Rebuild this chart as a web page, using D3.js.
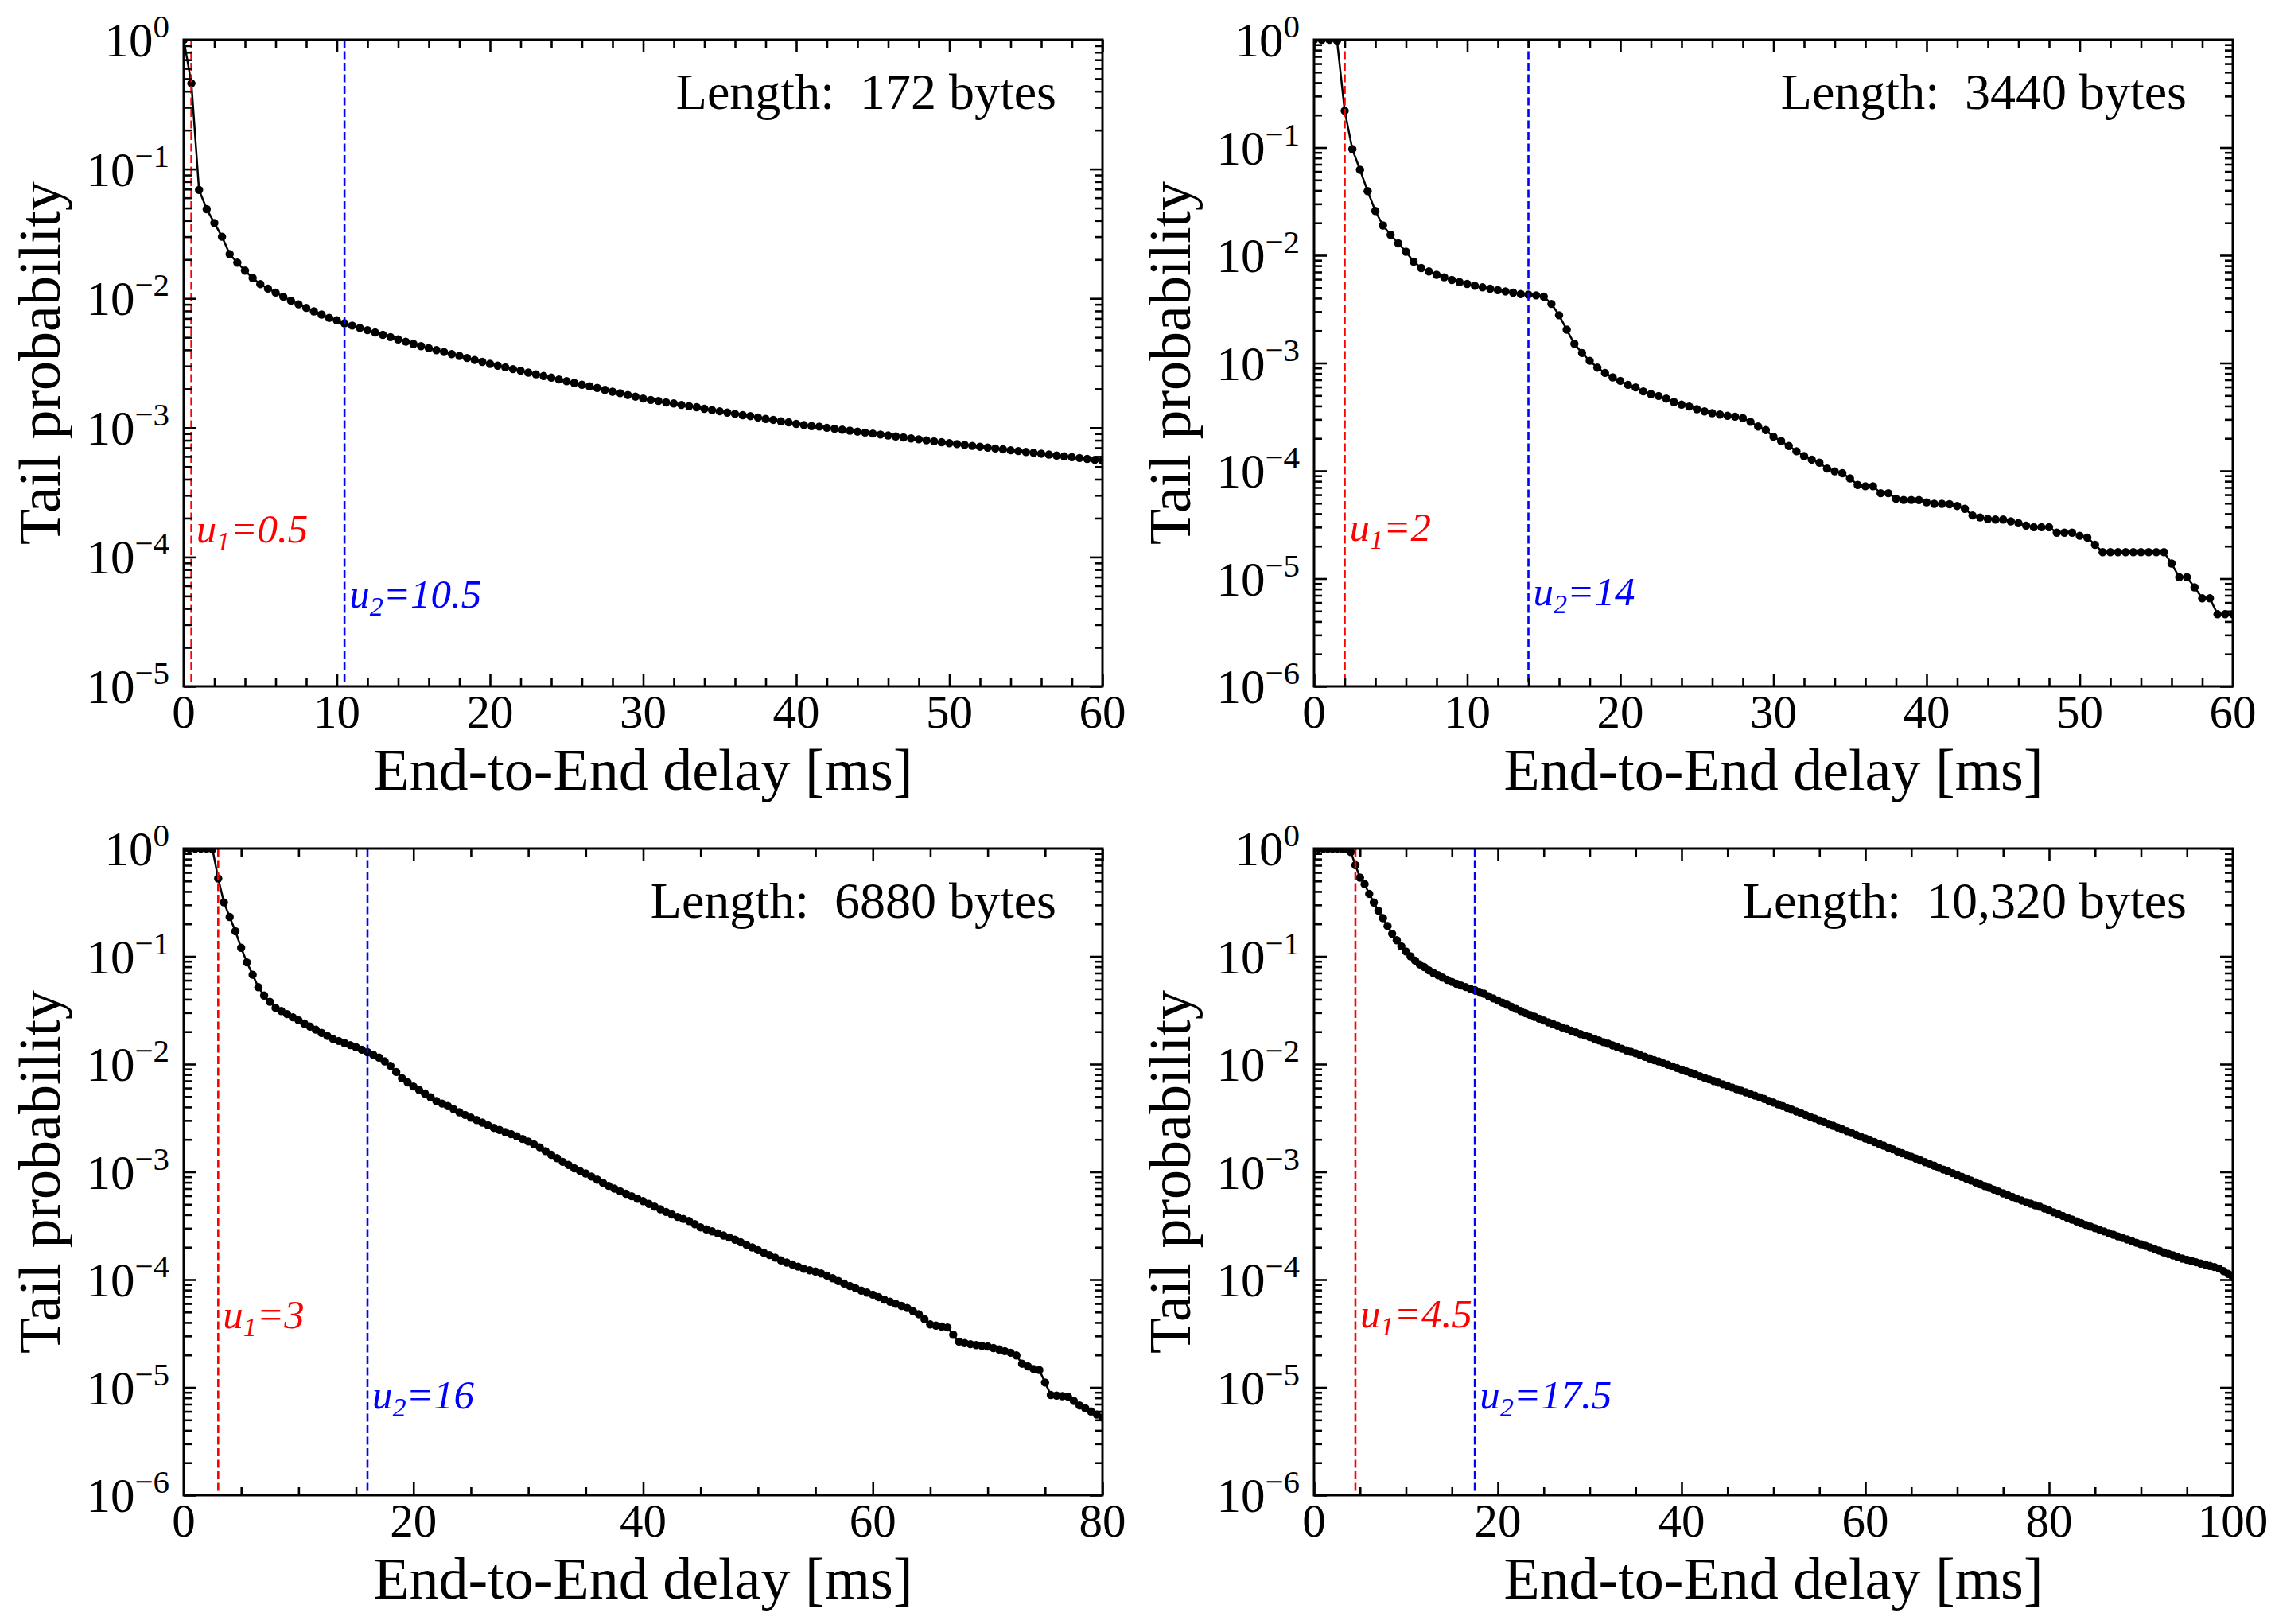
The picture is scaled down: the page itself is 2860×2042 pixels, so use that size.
<!DOCTYPE html>
<html>
<head>
<meta charset="utf-8">
<script src="https://cdn.jsdelivr.net/npm/d3@7"></script>
<style>
  html, body { margin: 0; padding: 0; background: #fff; }
  svg { display: block; }
  text { font-family: "Liberation Serif", "Times New Roman", serif; fill: #000; }
</style>
</head>
<body>
<svg id="chart" width="2860" height="2042"></svg>
<script>
// tail probability sampled every half millisecond, starting at 0 ms
var sampleStep = 0.5;

var tail172 = [
  1.0, 0.46, 0.069, 0.049, 0.0383, 0.030, 0.022, 0.0189, 0.0164, 0.0144,
  0.0129, 0.0119, 0.0111, 0.0103, 0.0096, 0.0090, 0.00845, 0.00794, 0.0075, 0.00707,
  0.00677, 0.00642, 0.00616, 0.00591, 0.00568, 0.00545, 0.00523, 0.00502, 0.00482, 0.00463,
  0.00444, 0.00427, 0.00412, 0.00398, 0.00385, 0.00371, 0.00359, 0.00346, 0.00334, 0.00323,
  0.00312, 0.00302, 0.00293, 0.00284, 0.00276, 0.00267, 0.00259, 0.00251, 0.00244, 0.00236,
  0.00229, 0.00222, 0.00215, 0.00209, 0.00203, 0.00196, 0.00190, 0.00185, 0.00179, 0.00174,
  0.00168, 0.00164, 0.00161, 0.00157, 0.00154, 0.00150, 0.00147, 0.00144, 0.00140, 0.00137,
  0.00134, 0.00131, 0.00128, 0.00125, 0.00123, 0.00120, 0.00117, 0.00115, 0.00112, 0.00110,
  0.00107, 0.00105, 0.00103, 0.00102, 9.99e-4, 9.82e-4, 9.65e-4, 9.49e-4, 9.33e-4, 9.17e-4,
  9.01e-4, 8.86e-4, 8.71e-4, 8.56e-4, 8.41e-4, 8.27e-4, 8.13e-4, 7.99e-4, 7.85e-4, 7.72e-4,
  7.59e-4, 7.47e-4, 7.36e-4, 7.24e-4, 7.13e-4, 7.02e-4, 6.91e-4, 6.81e-4, 6.70e-4, 6.60e-4,
  6.50e-4, 6.40e-4, 6.30e-4, 6.20e-4, 6.10e-4, 6.01e-4, 5.92e-4, 5.83e-4, 5.74e-4, 5.65e-4,
  5.56e-4
];

var tail3440 = [
  1.0, 1.0, 1.0, 0.98, 0.219, 0.0966, 0.0621, 0.0394, 0.0258, 0.0189,
  0.0155, 0.0129, 0.0108, 0.00873, 0.00762, 0.00708, 0.0066, 0.00625, 0.0059, 0.00564,
  0.00542, 0.00521, 0.00504, 0.0049, 0.00475, 0.00462, 0.0045, 0.00437, 0.00432, 0.00425,
  0.00413, 0.00354, 0.00278, 0.00204, 0.00151, 0.00124, 0.00105, 9.08e-4, 8.1e-4, 7.36e-4,
  6.84e-4, 6.28e-4, 5.94e-4, 5.46e-4, 5.15e-4, 4.95e-4, 4.68e-4, 4.35e-4, 4.11e-4, 3.95e-4,
  3.73e-4, 3.56e-4, 3.43e-4, 3.33e-4, 3.24e-4, 3.18e-4, 3.09e-4, 2.85e-4, 2.58e-4, 2.39e-4,
  2.07e-4, 1.89e-4, 1.70e-4, 1.52e-4, 1.37e-4, 1.27e-4, 1.19e-4, 1.05e-4, 9.9e-5, 9.5e-5,
  8.5e-5, 7.4e-5, 7.2e-5, 7.2e-5, 6.2e-5, 6.2e-5, 5.5e-5, 5.37e-5, 5.37e-5, 5.35e-5,
  5.1e-5, 4.94e-5, 4.94e-5, 4.9e-5, 4.72e-5, 4.44e-5, 3.85e-5, 3.69e-5, 3.58e-5, 3.53e-5,
  3.53e-5, 3.4e-5, 3.27e-5, 3.1e-5, 3.0e-5, 3.0e-5, 3.0e-5, 2.67e-5, 2.67e-5, 2.67e-5,
  2.5e-5, 2.4e-5, 2.06e-5, 1.76e-5, 1.76e-5, 1.76e-5, 1.76e-5, 1.76e-5, 1.76e-5, 1.76e-5,
  1.76e-5, 1.76e-5, 1.38e-5, 1.03e-5, 1.03e-5, 8.3e-6, 6.56e-6, 6.56e-6, 4.67e-6, 4.67e-6,
  4.67e-6
];

var tail6880 = [
  1.0, 1.0, 1.0, 1.0, 1.0, 0.99, 0.529, 0.317, 0.232, 0.171,
  0.120, 0.0879, 0.0675, 0.0517, 0.0433, 0.0379, 0.0332, 0.0311, 0.0291, 0.0272,
  0.0255, 0.0238, 0.0223, 0.0209, 0.0195, 0.0183, 0.0171, 0.0164, 0.0157, 0.0150,
  0.01435, 0.0136, 0.0129, 0.0122, 0.0115, 0.0106, 0.00964, 0.00845, 0.0074, 0.00677,
  0.0062, 0.00575, 0.00533, 0.00492, 0.00454, 0.0043, 0.00408, 0.00382, 0.00358, 0.00338,
  0.00319, 0.00303, 0.00287, 0.00271, 0.00256, 0.00245, 0.00234, 0.00224, 0.00214, 0.00202,
  0.00191, 0.0018, 0.00169, 0.00156, 0.00144, 0.00134, 0.00124, 0.00116, 0.00108, 0.00102,
  9.67e-4, 9.05e-4, 8.47e-4, 7.92e-4, 7.41e-4, 7.0e-4, 6.61e-4, 6.27e-4, 5.94e-4, 5.64e-4,
  5.35e-4, 5.05e-4, 4.76e-4, 4.5e-4, 4.25e-4, 4.03e-4, 3.82e-4, 3.66e-4, 3.5e-4, 3.27e-4,
  3.06e-4, 2.93e-4, 2.81e-4, 2.69e-4, 2.57e-4, 2.46e-4, 2.35e-4, 2.22e-4, 2.1e-4, 1.99e-4,
  1.88e-4, 1.78e-4, 1.69e-4, 1.6e-4, 1.51e-4, 1.44e-4, 1.38e-4, 1.32e-4, 1.26e-4, 1.22e-4,
  1.19e-4, 1.14e-4, 1.09e-4, 1.03e-4, 9.7e-5, 9.2e-5, 8.73e-5, 8.32e-5, 7.92e-5, 7.58e-5,
  7.25e-5, 6.88e-5, 6.52e-5, 6.24e-5, 5.97e-5, 5.71e-5, 5.46e-5, 5.1e-5, 4.78e-5, 4.3e-5,
  3.84e-5, 3.75e-5, 3.67e-5, 3.6e-5, 3.08e-5, 2.66e-5, 2.58e-5, 2.52e-5, 2.47e-5, 2.43e-5,
  2.4e-5, 2.32e-5, 2.25e-5, 2.17e-5, 2.1e-5, 1.98e-5, 1.66e-5, 1.57e-5, 1.48e-5, 1.45e-5,
  1.11e-5, 8.5e-6, 8.4e-6, 8.3e-6, 8.2e-6, 7.5e-6, 6.8e-6, 6.4e-6, 5.98e-6, 5.6e-6,
  5.25e-6
];

var tail10320 = [
  1.0, 1.0, 1.0, 1.0, 1.0, 1.0, 1.0, 1.0, 0.93, 0.702,
  0.538, 0.468, 0.380, 0.316, 0.265, 0.226, 0.191, 0.162, 0.141, 0.124,
  0.111, 0.100, 0.0912, 0.0841, 0.0794, 0.0741, 0.0700, 0.0668, 0.0634, 0.0605,
  0.0579, 0.0556, 0.0537, 0.0519, 0.0501, 0.0486, 0.0468, 0.0450, 0.0427, 0.0407,
  0.0389, 0.0372, 0.0356, 0.0340, 0.0325, 0.0311, 0.0297, 0.0286, 0.0275, 0.0264,
  0.0254, 0.0244, 0.0236, 0.0227, 0.0219, 0.0212, 0.0204, 0.0197, 0.0190, 0.0184,
  0.0178, 0.0172, 0.0166, 0.0160, 0.0155, 0.0149, 0.0144, 0.0139, 0.0134, 0.0130,
  0.0126, 0.0121, 0.0117, 0.0113, 0.0109, 0.0106, 0.0102, 0.00987, 0.00953, 0.00921,
  0.00889, 0.00859, 0.00830, 0.00801, 0.00774, 0.00747, 0.00722, 0.00697, 0.00673, 0.00650,
  0.00628, 0.00607, 0.00586, 0.00566, 0.00547, 0.00528, 0.00510, 0.00493, 0.00475, 0.00457,
  0.00440, 0.00424, 0.00408, 0.00393, 0.00378, 0.00364, 0.00350, 0.00337, 0.00325, 0.00313,
  0.00301, 0.00290, 0.00279, 0.00268, 0.00258, 0.00248, 0.00239, 0.00230, 0.00221, 0.00212,
  0.00204, 0.00196, 0.00189, 0.00182, 0.00175, 0.00168, 0.00162, 0.00155, 0.00149, 0.00144,
  0.00138, 0.00133, 0.00128, 0.00123, 0.00118, 0.00114, 0.00109, 0.00105, 0.00101, 9.72e-4,
  9.35e-4, 8.99e-4, 8.65e-4, 8.31e-4, 7.99e-4, 7.69e-4, 7.39e-4, 7.11e-4, 6.84e-4, 6.58e-4,
  6.32e-4, 6.08e-4, 5.85e-4, 5.62e-4, 5.43e-4, 5.25e-4, 5.07e-4, 4.90e-4, 4.75e-4, 4.57e-4,
  4.39e-4, 4.21e-4, 4.05e-4, 3.89e-4, 3.75e-4, 3.61e-4, 3.47e-4, 3.34e-4, 3.22e-4, 3.11e-4,
  3.00e-4, 2.90e-4, 2.80e-4, 2.70e-4, 2.61e-4, 2.52e-4, 2.44e-4, 2.36e-4, 2.28e-4, 2.20e-4,
  2.13e-4, 2.06e-4, 1.99e-4, 1.92e-4, 1.86e-4, 1.79e-4, 1.73e-4, 1.68e-4, 1.62e-4, 1.57e-4,
  1.53e-4, 1.49e-4, 1.45e-4, 1.41e-4, 1.38e-4, 1.34e-4, 1.31e-4, 1.27e-4, 1.20e-4, 1.13e-4,
  1.06e-4
];

var panelLabels = ['Length:\u2002172 bytes', 'Length:\u20023440 bytes',
                   'Length:\u20026880 bytes', 'Length:\u200210,320 bytes'];
var u1Values = [0.5, 2, 3, 4.5];
var u2Values = [10.5, 14, 16, 17.5];
var xMaxValues = [60, 60, 80, 100];
var xMajorTicks = [
  [0, 10, 20, 30, 40, 50, 60],
  [0, 10, 20, 30, 40, 50, 60],
  [0, 20, 40, 60, 80],
  [0, 20, 40, 60, 80, 100]
];
var xMinorSteps = [2, 2, 5, 5];
var yLowestExp = [-5, -6, -6, -6];
var xTitle = 'End-to-End delay [ms]';
var yTitle = 'Tail probability';

// layout
var panelPos = [
  {left: 231, top: 50}, {left: 1652, top: 50},
  {left: 231, top: 1067}, {left: 1652, top: 1067}
];
var plotW = 1155, plotH = 813;
var u1LabelY = [632, 630, 603, 602];
var u2LabelY = [714, 711, 704, 704];

var svg = d3.select('#chart');

function drawPanel(i, series) {
  var p = panelPos[i];
  var g = svg.append('g')
      .attr('transform', 'translate(' + p.left + ',' + p.top + ')');

  var x = d3.scaleLinear().domain([0, xMaxValues[i]]).range([0, plotW]);
  var y = d3.scaleLog().domain([Math.pow(10, yLowestExp[i]), 1]).range([plotH, 0]);

  g.append('clipPath').attr('id', 'clip' + i)
    .append('rect').attr('width', plotW).attr('height', plotH);

  var points = series.map(function(v, k) { return {x: k * sampleStep, y: v}; });
  var plot = g.append('g').attr('clip-path', 'url(#clip' + i + ')');

  plot.append('path')
      .datum(points)
      .attr('fill', 'none')
      .attr('stroke', '#000')
      .attr('stroke-width', 2.5)
      .attr('d', d3.line().x(function(d) { return x(d.x); }).y(function(d) { return y(d.y); }));

  plot.selectAll('circle')
      .data(points)
    .enter().append('circle')
      .attr('cx', function(d) { return x(d.x); })
      .attr('cy', function(d) { return y(d.y); })
      .attr('r', 5.2)
      .attr('fill', '#000');

  // threshold lines
  [[u1Values[i], '#ff0000'], [u2Values[i], '#0000ff']].forEach(function(u) {
    plot.append('line')
        .attr('x1', x(u[0])).attr('x2', x(u[0]))
        .attr('y1', 0).attr('y2', plotH)
        .attr('stroke', u[1])
        .attr('stroke-width', 2.6)
        .attr('stroke-dasharray', '10,4.5');
  });

  // ticks on all four sides, pointing in
  var major = xMajorTicks[i];
  var minorX = d3.range(0, xMaxValues[i] + 0.001, xMinorSteps[i])
      .filter(function(v) { return major.indexOf(v) < 0; });
  var majorY = [], minorY = [];
  for (var e = yLowestExp[i]; e <= 0; e++) {
    majorY.push(Math.pow(10, e));
    if (e < 0) {
      for (var m = 2; m <= 9; m++) minorY.push(m * Math.pow(10, e));
    }
  }

  function ticks(axis, values, size, transform) {
    var a = g.append('g')
        .attr('transform', transform)
        .call(axis.tickValues(values).tickSize(-size).tickSizeOuter(0).tickFormat(''));
    a.select('.domain').remove();
    a.selectAll('line').attr('stroke', '#000').attr('stroke-width', 2.6);
  }
  ticks(d3.axisBottom(x), major, 16, 'translate(0,' + plotH + ')');
  ticks(d3.axisBottom(x), minorX, 10, 'translate(0,' + plotH + ')');
  ticks(d3.axisTop(x), major, 16, 'translate(0,0)');
  ticks(d3.axisTop(x), minorX, 10, 'translate(0,0)');
  ticks(d3.axisLeft(y), majorY, 16, 'translate(0,0)');
  ticks(d3.axisLeft(y), minorY, 10, 'translate(0,0)');
  ticks(d3.axisRight(y), majorY, 16, 'translate(' + plotW + ',0)');
  ticks(d3.axisRight(y), minorY, 10, 'translate(' + plotW + ',0)');

  g.append('rect')
      .attr('width', plotW).attr('height', plotH)
      .attr('fill', 'none').attr('stroke', '#000').attr('stroke-width', 3);

  // tick labels
  g.selectAll('.xlab')
      .data(major)
    .enter().append('text')
      .attr('x', function(d) { return x(d); })
      .attr('y', plotH + 52)
      .attr('text-anchor', 'middle')
      .attr('font-size', 59)
      .text(function(d) { return d; });

  majorY.forEach(function(v) {
    var ex = Math.round(Math.log10(v));
    var t = g.append('text')
        .attr('x', -18)
        .attr('y', y(v) + 21)
        .attr('text-anchor', 'end')
        .attr('font-size', 61);
    t.append('tspan').text('10');
    t.append('tspan')
        .attr('dy', -24)
        .attr('font-size', 41)
        .text(ex === 0 ? '0' : '\u2212' + Math.abs(ex));
  });

  // axis titles
  g.append('text')
      .attr('x', plotW / 2)
      .attr('y', plotH + 130)
      .attr('text-anchor', 'middle')
      .attr('font-size', 74)
      .text(xTitle);

  g.append('text')
      .attr('transform', 'translate(-156,' + (plotH / 2) + ') rotate(-90)')
      .attr('text-anchor', 'middle')
      .attr('font-size', 74)
      .text(yTitle);

  g.append('text')
      .attr('x', plotW - 58)
      .attr('y', 87)
      .attr('text-anchor', 'end')
      .attr('font-size', 64)
      .style('white-space', 'pre')
      .text(panelLabels[i]);

  // u labels
  [[u1Values[i], '1', u1LabelY[i], '#ff0000'], [u2Values[i], '2', u2LabelY[i], '#0000ff']].forEach(function(u) {
    var t = g.append('text')
        .attr('x', x(u[0]) + 6)
        .attr('y', u[2])
        .attr('font-size', 51)
        .attr('font-style', 'italic')
        .style('fill', u[3]);
    t.append('tspan').text('u');
    t.append('tspan').attr('dy', 10).attr('font-size', 34).text(u[1]);
    t.append('tspan').attr('dy', -10).text('=' + u[0]);
  });
}

drawPanel(0, tail172);
drawPanel(1, tail3440);
drawPanel(2, tail6880);
drawPanel(3, tail10320);
</script>
</body>
</html>
